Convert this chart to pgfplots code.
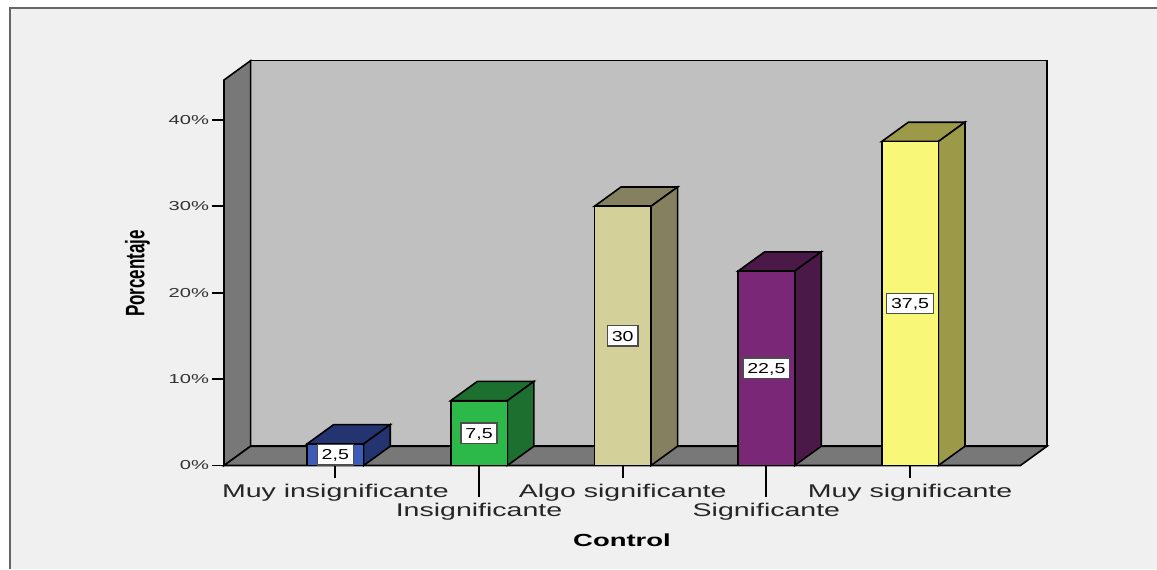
\documentclass[border=0pt]{standalone}
\usepackage{pgfplots}
\pgfplotsset{compat=1.18}
\usepackage{fontspec}
\setmainfont{Liberation Sans}
\newfontfamily\widefont[FakeStretch=1.55]{Liberation Sans}
\newfontfamily\valfamily[FakeStretch=1.36]{Liberation Sans}
\newfontfamily\boldwide[FakeStretch=1.57]{Liberation Sans Bold}
\definecolor{bgc}{HTML}{F0F0F0}
\definecolor{wallback}{HTML}{C0C0C0}
\definecolor{wallside}{HTML}{787878}
\definecolor{c1f}{HTML}{3C5CB8}
\definecolor{c1s}{HTML}{243470}
\definecolor{c2f}{HTML}{2DB84A}
\definecolor{c2s}{HTML}{1D6F2F}
\definecolor{c3f}{HTML}{D4D09A}
\definecolor{c3s}{HTML}{858060}
\definecolor{c4f}{HTML}{7B2777}
\definecolor{c4s}{HTML}{4A1948}
\definecolor{c5f}{HTML}{F9F777}
\definecolor{c5s}{HTML}{9C9948}
\newcommand\hw{0.197}
\newcommand\cdx{0.185}
\newcommand\cdy{2.23}
\newcommand{\cube}[4]{%
  \pgfmathsetmacro\xa{#1-\hw}%
  \pgfmathsetmacro\xb{#1+\hw}%
  \pgfmathsetmacro\xc{#1+\hw+\cdx}%
  \pgfmathsetmacro\xd{#1-\hw+\cdx}%
  \pgfmathsetmacro\yt{#2+\cdy}%
  \edef\tmp{%
    \noexpand\addplot[fill=#4,draw=black,line width=0.8pt] coordinates {(\xa,#2) (\xb,#2) (\xc,\yt) (\xd,\yt)} -- cycle;
    \noexpand\addplot[fill=#4,draw=black,line width=0.8pt] coordinates {(\xb,0) (\xc,\cdy) (\xc,\yt) (\xb,#2)} -- cycle;
    \noexpand\addplot[fill=#3,draw=black,line width=0.8pt] coordinates {(\xa,0) (\xb,0) (\xb,#2) (\xa,#2)} -- cycle;
  }%
  \tmp
}
\begin{document}
\begin{tikzpicture}
\fill[white] (0pt,0pt) rectangle (578.5pt,284.5pt);
\fill[bgc] (4.75pt,0pt) rectangle (578.5pt,280.25pt);
\draw[black!60, line width=1pt] (4.75pt,0pt) -- (4.75pt,280.25pt) -- (578.5pt,280.25pt);
\begin{axis}[
  at={(112pt,51.75pt)}, anchor=south west,
  scale only axis, width=411.5pt, height=202.4pt,
  xmin=-0.775, xmax=4.953, ymin=0, ymax=46.85,
  clip=false,
  axis x line*=bottom, axis y line*=left,
  axis line style={draw=none},
  tick align=outside,
  major tick length=6pt,
  tick style={black, line width=0.9pt},
  ytick={0,10,20,30,40},
  yticklabels={0\%,10\%,20\%,30\%,40\%},
  yticklabel style={font=\widefont\fontsize{6.5}{7}\selectfont, color=black!80, xshift=2pt},
  xtick={0,2,4},
  xticklabels={Muy insignificante, Algo significante, Muy significante},
  xticklabel style={font=\widefont\fontsize{9.2}{11}\selectfont, color=black!85},
  extra x ticks={1,3},
  extra x tick labels={Insignificante, Significante},
  extra x tick style={major tick length=15.5pt},
  xlabel={\boldwide\fontsize{8.75}{10}\selectfont Control},
  xlabel style={at={(axis description cs:0.4836,-0.1853)}, anchor=center},
  ylabel={\scalebox{1}[1.57]{\bfseries\fontsize{8.5}{10}\selectfont Porcentaje}},
  ylabel style={at={(axis description cs:-0.1051,0.4743)}, anchor=center, rotate=0},
]
% walls and floor
\addplot[fill=wallback, draw=black, line width=0.8pt] coordinates {(-0.59,2.23) (4.953,2.23) (4.953,46.85) (-0.59,46.85)} -- cycle;
\addplot[fill=wallside, draw=black, line width=0.8pt] coordinates {(-0.775,0) (-0.59,2.23) (-0.59,46.85) (-0.775,44.62)} -- cycle;
\addplot[fill=wallside, draw=black, line width=0.8pt] coordinates {(-0.775,0) (4.768,0) (4.953,2.23) (-0.59,2.23)} -- cycle;
% bars
\cube{0}{2.5}{c1f}{c1s}
\cube{1}{7.5}{c2f}{c2s}
\cube{2}{30}{c3f}{c3s}
\cube{3}{22.5}{c4f}{c4s}
\cube{4}{37.5}{c5f}{c5s}
% value labels
\addplot[draw=none, mark=none, y filter/.expression={y/2},
  nodes near coords, point meta=explicit symbolic,
  nodes near coords style={anchor=center, fill=white, draw=black!70, line width=0.6pt,
    font=\valfamily\fontsize{7.2}{8}\selectfont, text=black,
    inner xsep=2.2pt, inner ysep=2.5pt, text height=5.2pt, text depth=0pt}]
  coordinates {(0,2.5) [2{,}5] (1,7.5) [7{,}5] (2,30) [30] (3,22.5) [22{,}5] (4,37.5) [37{,}5]};
\end{axis}
\pgfresetboundingbox
\useasboundingbox (0pt,0pt) rectangle (578.5pt,284.5pt);
\end{tikzpicture}
\end{document}
